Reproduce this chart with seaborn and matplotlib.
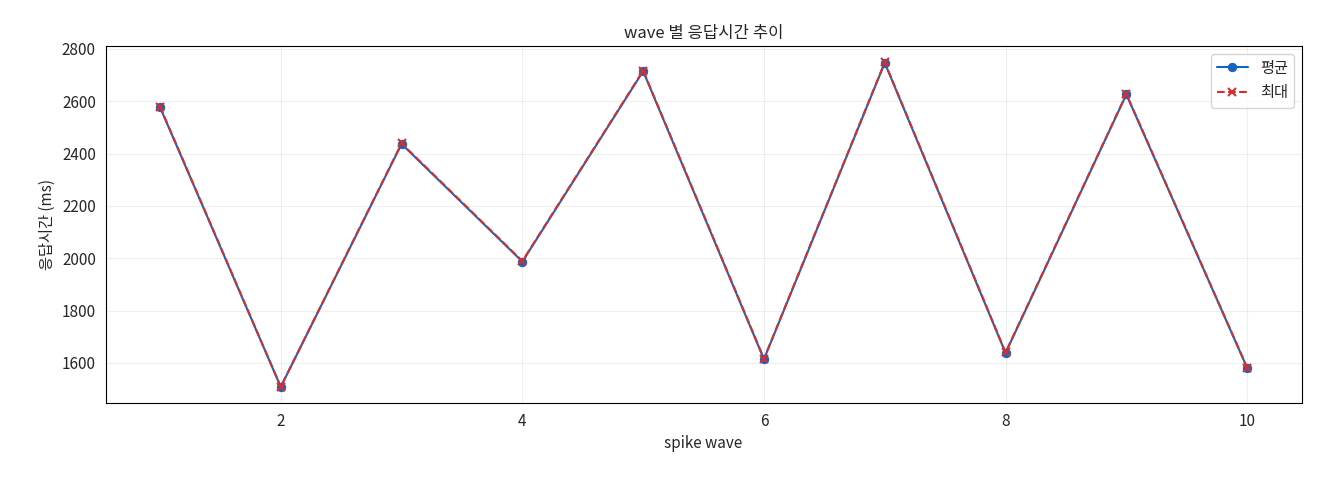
import matplotlib
matplotlib.use("Agg")
import matplotlib.pyplot as plt
import seaborn as sns
import pandas as pd

waves = [1, 2, 3, 4, 5, 6, 7, 8, 9, 10]
avg_ms = [2578, 1508, 2437, 1987, 2715, 1614, 2747, 1638, 2626, 1581]
max_ms = [2580, 1509, 2439, 1989, 2717, 1616, 2749, 1640, 2628, 1582]

sns.set_style("white")
plt.rcParams['font.family'] = ['Noto Sans CJK KR', 'DejaVu Sans']
plt.rcParams['font.size'] = 11

df = pd.DataFrame({"wave": waves, "avg": avg_ms, "max": max_ms})

fig, ax = plt.subplots(figsize=(13.2, 4.8), dpi=100)
sns.lineplot(data=df, x="wave", y="avg", ax=ax, color="#1565c0", marker="o",
             markersize=6, markeredgecolor="#1565c0", label="평균")
sns.lineplot(data=df, x="wave", y="max", ax=ax, color="#d32f2f", marker="x",
             markersize=6, markeredgecolor="#d32f2f", markeredgewidth=1.5,
             dashes=False, linestyle="--", label="최대")
ax.lines[1].set_linestyle("--")
ax.set_title("wave 별 응답시간 추이", fontsize=12)
ax.set_xlabel("spike wave")
ax.set_ylabel("응답시간 (ms)")
ax.tick_params(labelsize=11)
ax.grid(True, alpha=0.3)
for s in ax.spines.values():
    s.set_color("black")
leg = ax.legend(loc="upper right")
leg.get_lines()[1].set_linestyle("--")
fig.subplots_adjust(left=0.08, right=0.986, top=0.904, bottom=0.16)
fig.savefig("out.png")
